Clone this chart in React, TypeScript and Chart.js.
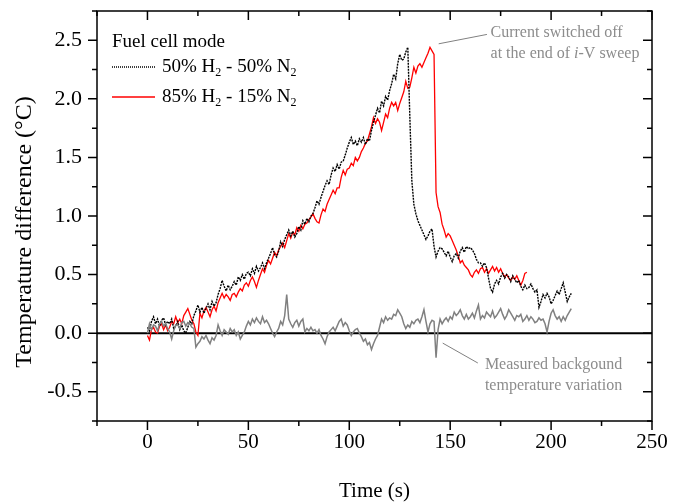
import React, { useEffect, useRef } from "react";
import { Chart, registerables } from "chart.js";

Chart.register(...registerables);

// ---- axes ----
const X_MIN = -25;
const X_MAX = 250;
const Y_MIN = -0.75;
const Y_MAX = 2.75;
const X_MAJOR = [0, 50, 100, 150, 200, 250];
const X_MINOR = [-25, 25, 75, 125, 175, 225];
const Y_MAJOR = [-0.5, 0, 0.5, 1, 1.5, 2, 2.5];
const Y_MINOR = [-0.75, -0.25, 0.25, 0.75, 1.25, 1.75, 2.25, 2.75];
const X_TITLE = "Time (s)";
const Y_TITLE = "Temperature difference (°C)";

// ---- data: one sample per second, starting at t = 0 s ----
const SAMPLE_STEP_S = 1;

// 50% H2 - 50% N2 (black, dotted)
const h2n2_50 = [
  0.05, 0.02, 0.10, 0.14, 0.08, 0.12, 0.06, 0.11, 0.13, 0.07,
  0.10, 0.08, 0.12, 0.04, 0.06, 0.10, 0.03, 0.07, 0.02, 0.00,
  0.05, 0.10, 0.08, 0.15, 0.19, 0.24, 0.18, 0.22, 0.17, 0.21,
  0.25, 0.20, 0.27, 0.23, 0.26, 0.33, 0.38, 0.45, 0.40, 0.36,
  0.41, 0.37, 0.40, 0.44, 0.41, 0.48, 0.45, 0.50, 0.46, 0.51,
  0.52, 0.49, 0.55, 0.51, 0.57, 0.53, 0.56, 0.60, 0.55, 0.60,
  0.64, 0.68, 0.73, 0.67, 0.65, 0.70, 0.78, 0.74, 0.80, 0.84,
  0.88, 0.83, 0.87, 0.82, 0.85, 0.91, 0.88, 0.96, 0.93, 0.98,
  0.95, 1.00, 1.02, 1.07, 1.13, 1.10, 1.16, 1.21, 1.26, 1.30,
  1.27, 1.35, 1.41, 1.38, 1.44, 1.40, 1.46, 1.47, 1.52, 1.58,
  1.63, 1.67, 1.61, 1.64, 1.60, 1.66, 1.63, 1.67, 1.61, 1.66,
  1.64, 1.73, 1.80, 1.86, 1.92, 1.88, 1.98, 1.94, 2.02, 1.99,
  2.07, 2.13, 2.21, 2.17, 2.30, 2.38, 2.33, 2.34, 2.40, 2.44,
  1.85, 1.30, 1.10, 1.02, 0.96, 0.92, 0.88, 0.84, 0.80, 0.83,
  0.87, 0.89, 0.74, 0.65, 0.70, 0.73, 0.72, 0.69, 0.66, 0.70,
  0.65, 0.61, 0.66, 0.68, 0.64, 0.70, 0.73, 0.69, 0.74, 0.72,
  0.73, 0.71, 0.68, 0.63, 0.60, 0.60, 0.57, 0.60, 0.56, 0.47,
  0.38, 0.35, 0.42, 0.45, 0.42, 0.48, 0.51, 0.47, 0.50, 0.48,
  0.44, 0.49, 0.46, 0.43, 0.45, 0.40, 0.37, 0.41, 0.38, 0.39,
  0.42, 0.38, 0.35, 0.37, 0.22, 0.27, 0.33, 0.30, 0.34, 0.31,
  0.25, 0.28, 0.32, 0.36, 0.33, 0.38, 0.43, 0.35, 0.27, 0.31,
  0.34,
];

// 85% H2 - 15% N2 (red)
const h2n2_85 = [
  -0.02, -0.06, 0.03, 0.05, 0.01, 0.00, 0.06, 0.08, 0.03, 0.07,
  0.02, 0.05, 0.10, 0.08, 0.14, 0.09, 0.12, 0.08, 0.15, 0.18,
  0.21, 0.16, 0.11, 0.08, 0.01, -0.02, 0.17, 0.13, 0.19, 0.22,
  0.18, 0.14, 0.20, 0.23, 0.19, 0.26, 0.30, 0.34, 0.30, 0.33,
  0.31, 0.28, 0.33, 0.34, 0.31, 0.35, 0.38, 0.36, 0.41, 0.43,
  0.40, 0.45, 0.48, 0.44, 0.39, 0.45, 0.50, 0.55, 0.52, 0.58,
  0.62, 0.59, 0.64, 0.69, 0.66, 0.71, 0.74, 0.77, 0.73, 0.79,
  0.85, 0.81, 0.86, 0.84, 0.90, 0.87, 0.92, 0.89, 0.93, 0.94,
  0.97, 0.99, 1.02, 0.98, 0.95, 0.94, 1.01, 1.06, 1.04, 1.10,
  1.14, 1.18, 1.22, 1.19, 1.24, 1.24, 1.33, 1.39, 1.35, 1.40,
  1.41, 1.45, 1.43, 1.50, 1.47, 1.50, 1.55, 1.58, 1.62, 1.64,
  1.70, 1.76, 1.84, 1.79, 1.83, 1.80, 1.73, 1.80, 1.87, 1.84,
  1.92, 1.97, 1.94, 1.97, 1.90, 1.96, 2.01, 2.06, 2.15, 2.09,
  2.10, 2.18, 2.27, 2.22, 2.28, 2.30, 2.27, 2.31, 2.35, 2.39,
  2.44, 2.41, 2.38, 1.20, 1.08, 1.03, 0.93, 0.88, 0.82, 0.85,
  0.83, 0.79, 0.75, 0.71, 0.66, 0.60, 0.62, 0.58, 0.56, 0.54,
  0.50, 0.48, 0.52, 0.54, 0.51, 0.55, 0.56, 0.52, 0.55, 0.51,
  0.54, 0.57, 0.53, 0.56, 0.52, 0.55, 0.51, 0.48, 0.50, 0.47,
  0.45, 0.48, 0.46, 0.49, 0.45, 0.41, 0.45, 0.51, 0.52,
];

// Measured background temperature variation (grey)
const background = [
  0.00, 0.08, 0.03, 0.07, 0.06, 0.02, 0.08, 0.10, 0.06, 0.08,
  0.04, 0.01, -0.05, 0.02, 0.07, 0.07, 0.04, 0.09, 0.10, 0.06,
  0.09, 0.08, 0.05, 0.04, -0.12, -0.09, -0.07, -0.03, -0.05, -0.02,
  -0.06, -0.09, -0.04, -0.06, -0.02, 0.07, 0.02, -0.02, 0.03, 0.01,
  -0.01, 0.04, 0.01, 0.03, -0.02, 0.01, -0.05, -0.02, 0.01, 0.06,
  0.10, 0.07, 0.12, 0.09, 0.13, 0.10, 0.08, 0.14, 0.09, 0.11,
  0.08, 0.04, 0.00, -0.03, 0.01, 0.04, 0.10, 0.07, 0.15, 0.33,
  0.12, 0.08, 0.05, 0.09, 0.11, 0.06, 0.10, 0.12, 0.01, 0.04,
  0.02, 0.05, 0.02, 0.03, 0.00, 0.03, -0.02, -0.05, -0.09, -0.03,
  0.01, 0.03, 0.05, 0.02, 0.06, 0.10, 0.12, 0.06, 0.09, 0.07,
  0.02, -0.02, 0.01, 0.03, 0.04, 0.00, -0.03, -0.07, -0.05, -0.10,
  -0.08, -0.14, -0.09, -0.05, -0.02, 0.05, 0.12, 0.09, 0.14, 0.11,
  0.13, 0.12, 0.16, 0.15, 0.20, 0.17, 0.14, 0.08, 0.04, 0.07,
  0.05, 0.10, 0.08, 0.11, 0.12, 0.09, 0.14, 0.20, 0.10, 0.01,
  0.08, 0.11, 0.10, -0.21, 0.03, 0.12, 0.08, 0.11, 0.13, 0.10,
  0.14, 0.12, 0.18, 0.15, 0.17, 0.20, 0.15, 0.12, 0.16, 0.12,
  0.14, 0.17, 0.13, 0.19, 0.24, 0.12, 0.15, 0.13, 0.18, 0.16,
  0.14, 0.19, 0.13, 0.15, 0.18, 0.21, 0.16, 0.12, 0.15, 0.20,
  0.17, 0.14, 0.11, 0.15, 0.14, 0.16, 0.10, 0.12, 0.15, 0.11,
  0.14, 0.12, 0.09, 0.10, 0.13, 0.11, 0.12, 0.08, 0.01, 0.10,
  0.17, 0.20, 0.15, 0.12, 0.14, 0.10, 0.14, 0.11, 0.15, 0.18,
  0.21,
];

// ---- legend & annotation texts ----
const LEGEND_TITLE = "Fuel cell mode";
const SERIES_LABELS = ["50% H₂ - 50% N₂", "85% H₂ - 15% N₂"];
const NOTE_TOP_LINES = [["Current switched off"], ["at the end of ", "i", "-V sweep"]];
const NOTE_TOP_ITALIC = [[], [1]];
const NOTE_BOTTOM_LINES = [["Measured backgound"], ["temperature variation"]];

// annotation anchors in data coordinates [t (s), ΔT (°C)]
const NOTE_TOP_LEADER = [[144.3, 2.47], [168.2, 2.55]];
const NOTE_TOP_TEXT = [170, 2.56];
const NOTE_BOTTOM_LEADER = [[146.3, -0.085], [163.7, -0.255]];
const NOTE_BOTTOM_TEXT = [167.2, -0.27];

const SERIF = "'Liberation Serif', 'Times New Roman', serif";
const GREY_TEXT = "#8c8c8c";

const toPoints = (arr: number[]) => arr.map((v, i) => ({ x: i * SAMPLE_STEP_S, y: v }));

function drawSubText(ctx: CanvasRenderingContext2D, text: string, x: number, y: number, size: number) {
  // draws text where '₂' is rendered as a smaller, lowered '2'
  let cx = x;
  let buf = "";
  const flush = () => {
    if (!buf) return;
    ctx.font = `${size}px ${SERIF}`;
    ctx.fillText(buf, cx, y);
    cx += ctx.measureText(buf).width;
    buf = "";
  };
  for (const ch of text) {
    if (ch === "₂") {
      flush();
      ctx.font = `${Math.round(size * 0.62)}px ${SERIF}`;
      ctx.fillText("2", cx, y + size * 0.32);
      cx += ctx.measureText("2").width;
    } else {
      buf += ch;
    }
  }
  flush();
}

const framePlugin = {
  id: "framePlugin",
  beforeDatasetsDraw(chart: any) {
    const { ctx, chartArea: a, scales } = chart;
    const y0 = scales.y.getPixelForValue(0);
    ctx.save();
    ctx.strokeStyle = "#000";
    ctx.lineWidth = 2;
    ctx.beginPath();
    ctx.moveTo(a.left, y0);
    ctx.lineTo(a.right, y0);
    ctx.stroke();
    ctx.restore();
  },
  afterDraw(chart: any) {
    const { ctx, chartArea: a, scales } = chart;
    const xs = scales.x;
    const ys = scales.y;
    ctx.save();
    ctx.strokeStyle = "#000";
    ctx.lineWidth = 1.5;
    ctx.strokeRect(a.left, a.top, a.right - a.left, a.bottom - a.top);

    const MAJ = 9;
    const MIN = 5;
    ctx.lineWidth = 1.5;
    ctx.beginPath();
    const xTick = (v: number, len: number) => {
      const px = xs.getPixelForValue(v);
      ctx.moveTo(px, a.bottom);
      ctx.lineTo(px, a.bottom + len);
      ctx.moveTo(px, a.top);
      ctx.lineTo(px, a.top + len);
    };
    const yTick = (v: number, len: number) => {
      const py = ys.getPixelForValue(v);
      ctx.moveTo(a.left - len, py);
      ctx.lineTo(a.left, py);
      ctx.moveTo(a.right, py);
      ctx.lineTo(a.right - len, py);
    };
    X_MAJOR.forEach((v) => xTick(v, MAJ));
    X_MINOR.forEach((v) => xTick(v, MIN));
    Y_MAJOR.forEach((v) => yTick(v, MAJ));
    Y_MINOR.forEach((v) => yTick(v, MIN));
    ctx.stroke();

    // axis titles
    ctx.fillStyle = "#000";
    ctx.textAlign = "center";
    ctx.textBaseline = "middle";
    ctx.font = `21px ${SERIF}`;
    ctx.fillText(X_TITLE, (a.left + a.right) / 2, 491);
    ctx.save();
    ctx.translate(25, 232);
    ctx.rotate(-Math.PI / 2);
    ctx.font = `24px ${SERIF}`;
    ctx.fillText(Y_TITLE, 0, 0);
    ctx.restore();

    // legend
    ctx.textAlign = "left";
    ctx.textBaseline = "middle";
    ctx.font = `19px ${SERIF}`;
    ctx.fillText(LEGEND_TITLE, a.left + 15, 42);
    const rows = [67, 97];
    const colors = ["#000", "#ff0000"];
    const dashes = [[1, 1], []];
    rows.forEach((ry, i) => {
      ctx.beginPath();
      ctx.strokeStyle = colors[i];
      ctx.lineWidth = 1.5;
      ctx.setLineDash(dashes[i]);
      ctx.moveTo(a.left + 15, ry);
      ctx.lineTo(a.left + 58, ry);
      ctx.stroke();
      ctx.setLineDash([]);
      ctx.fillStyle = "#000";
      drawSubText(ctx, SERIES_LABELS[i], a.left + 65, ry, 19);
    });

    // annotations
    ctx.strokeStyle = "#808080";
    ctx.lineWidth = 1;
    const leader = (pts: number[][]) => {
      ctx.beginPath();
      ctx.moveTo(xs.getPixelForValue(pts[0][0]), ys.getPixelForValue(pts[0][1]));
      ctx.lineTo(xs.getPixelForValue(pts[1][0]), ys.getPixelForValue(pts[1][1]));
      ctx.stroke();
    };
    leader(NOTE_TOP_LEADER);
    leader(NOTE_BOTTOM_LEADER);
    ctx.fillStyle = GREY_TEXT;
    const writeNote = (lines: string[][], italic: number[][], at: number[]) => {
      const x0 = xs.getPixelForValue(at[0]);
      const y0 = ys.getPixelForValue(at[1]);
      lines.forEach((segs, li) => {
        let cx = x0;
        segs.forEach((s, si) => {
          const it = italic[li] && italic[li].includes(si);
          ctx.font = `${it ? "italic " : ""}16px ${SERIF}`;
          ctx.fillText(s, cx, y0 + li * 21);
          cx += ctx.measureText(s).width;
        });
      });
    };
    writeNote(NOTE_TOP_LINES, NOTE_TOP_ITALIC, NOTE_TOP_TEXT);
    writeNote(NOTE_BOTTOM_LINES, [[], []], NOTE_BOTTOM_TEXT);
    ctx.restore();
  },
};

export default function App() {
  const ref = useRef<HTMLCanvasElement | null>(null);
  useEffect(() => {
    if (!ref.current) return;
    const chart = new Chart(ref.current, {
      type: "line",
      data: {
        datasets: [
          {
            label: "Measured backgound temperature variation",
            data: toPoints(background),
            borderColor: "#808080",
            borderWidth: 1.5,
            pointRadius: 0,
            tension: 0,
          },
          {
            label: SERIES_LABELS[0],
            data: toPoints(h2n2_50),
            borderColor: "#000",
            borderWidth: 1.4,
            borderDash: [2, 1],
            pointRadius: 0,
            tension: 0,
          },
          {
            label: SERIES_LABELS[1],
            data: toPoints(h2n2_85),
            borderColor: "#ff0000",
            borderWidth: 1.3,
            pointRadius: 0,
            tension: 0,
          },
        ],
      },
      options: {
        animation: false,
        responsive: true,
        maintainAspectRatio: false,
        layout: { padding: { top: 11, right: 36, left: 0, bottom: 0 } },
        plugins: { legend: { display: false }, tooltip: { enabled: false } },
        scales: {
          x: {
            type: "linear",
            min: X_MIN,
            max: X_MAX,
            grid: { display: false, drawTicks: false },
            border: { display: false },
            afterBuildTicks: (s: any) => {
              s.ticks = X_MAJOR.map((v) => ({ value: v }));
            },
            afterFit: (s: any) => {
              s.height = 81;
              s.paddingLeft = 0;
              s.paddingRight = 0;
            },
            ticks: {
              autoSkip: false,
              maxRotation: 0,
              padding: 9,
              color: "#000",
              font: { family: SERIF, size: 21 },
              callback: (v: any) => String(v),
            },
          },
          y: {
            type: "linear",
            min: Y_MIN,
            max: Y_MAX,
            grid: { display: false, drawTicks: false },
            border: { display: false },
            afterBuildTicks: (s: any) => {
              s.ticks = Y_MAJOR.map((v) => ({ value: v }));
            },
            afterFit: (s: any) => {
              s.width = 97;
              s.paddingTop = 0;
              s.paddingBottom = 0;
            },
            ticks: {
              autoSkip: false,
              padding: 15,
              color: "#000",
              font: { family: SERIF, size: 22 },
              callback: (v: any) => Number(v).toFixed(1),
            },
          },
        },
      },
      plugins: [framePlugin],
    });
    return () => chart.destroy();
  }, []);
  return (
    <div style={{ position: "absolute", left: 0, top: 0, width: 688, height: 502, background: "#fff" }}>
      <canvas ref={ref} />
    </div>
  );
}
